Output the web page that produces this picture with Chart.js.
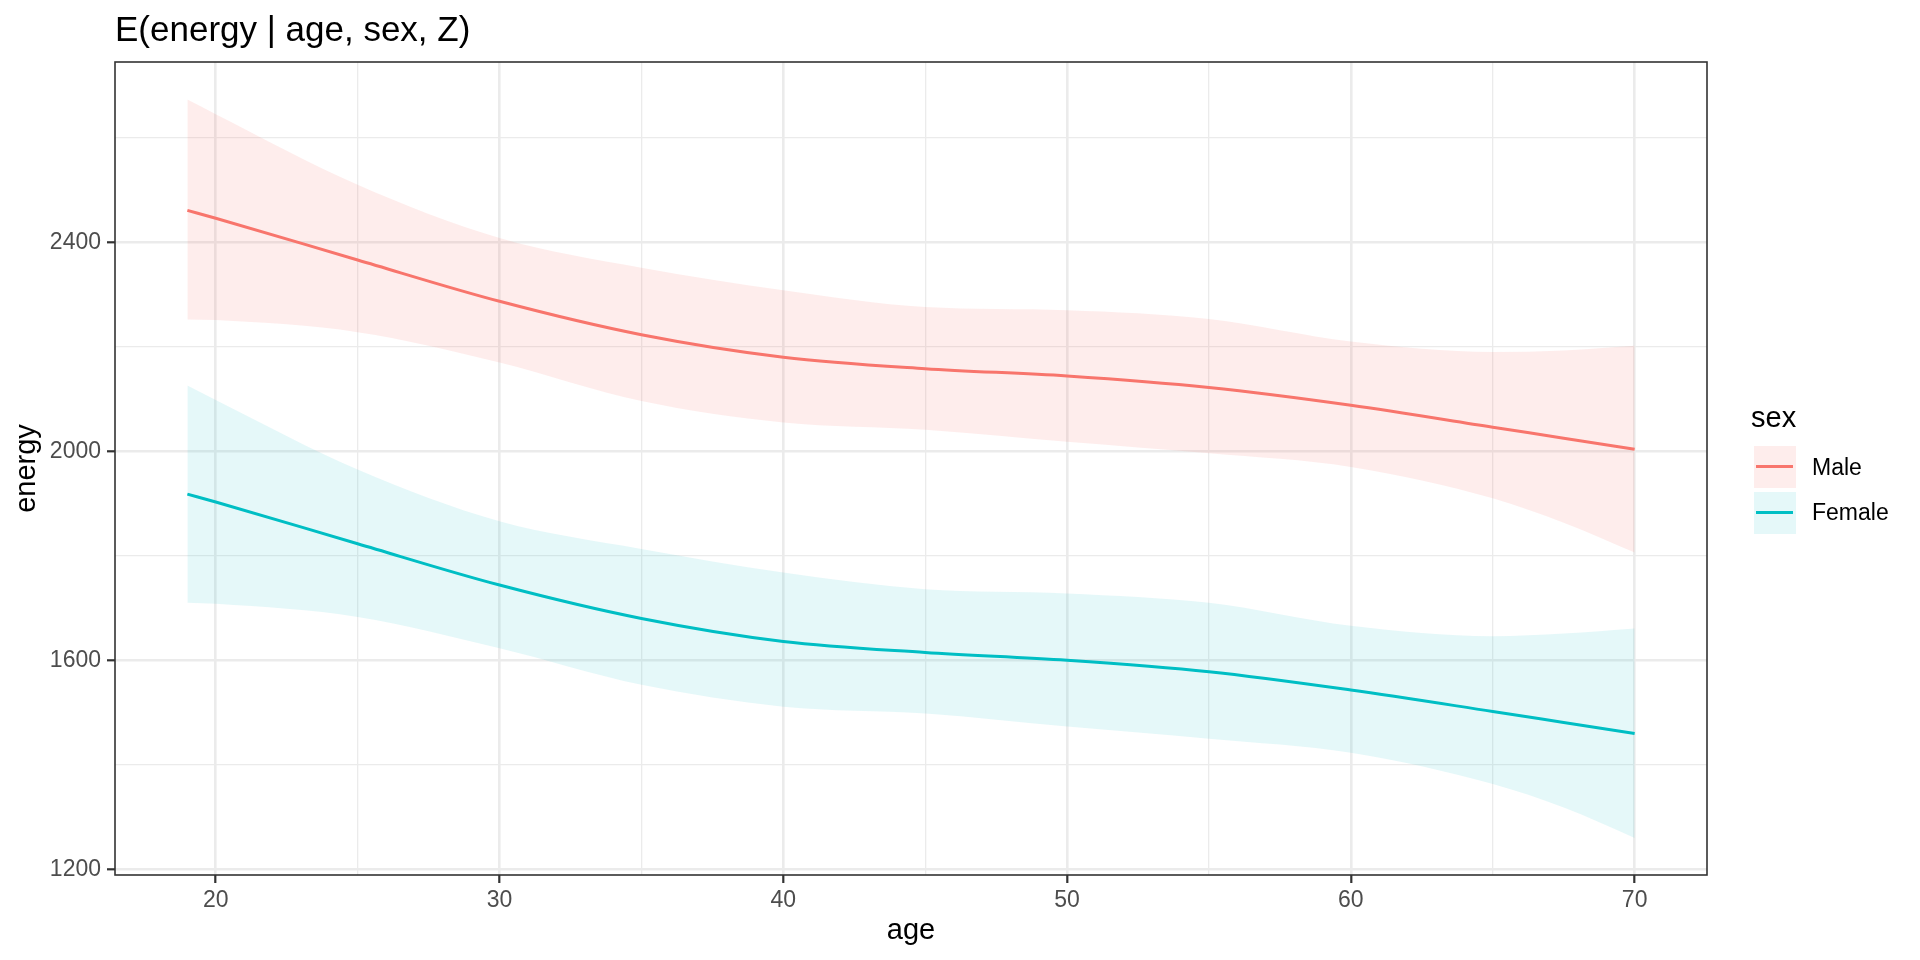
<!DOCTYPE html>
<html>
<head>
<meta charset="utf-8">
<title>E(energy | age, sex, Z)</title>
<script src="https://cdn.jsdelivr.net/npm/chart.js@4.4.1/dist/chart.umd.min.js"></script>
<style>
  body { margin: 0; background: #fff; font-family: "Liberation Sans", Arial, sans-serif; }
  #wrap { position: relative; width: 1920px; height: 960px; }
  .lg { position: absolute; color: #000; white-space: nowrap; }
  .key { position: absolute; width: 42px; height: 42px; }
  .key span { position: absolute; left: 2px; right: 3px; top: 19px; height: 3px; }
</style>
</head>
<body>
<div id="wrap">
  <canvas id="myChart" width="1920" height="960"></canvas>
  <!-- legend drawn as html, ggplot style -->
  <div class="lg" style="left:1751px; top:401px; font-size:29px;">sex</div>
  <div class="key" style="left:1754px; top:446px; background:rgba(248,118,109,0.13);"><span style="background:#F8766D"></span></div>
  <div class="lg" style="left:1812px; top:454px; font-size:23px;">Male</div>
  <div class="key" style="left:1754px; top:492px; background:rgba(0,191,196,0.10);"><span style="background:#00BFC4"></span></div>
  <div class="lg" style="left:1812px; top:499px; font-size:23px;">Female</div>
</div>
<script>
const ages = [19, 20, 25, 30, 35, 40, 45, 50, 55, 60, 65, 67.5, 70];

// Male: fitted line and confidence band
const maleFit   = [2461, 2446, 2366, 2287, 2223, 2180, 2158, 2144, 2122, 2088, 2046, 2025, 2004];
const maleUpper = [2673, 2645, 2510, 2408, 2351, 2308, 2276, 2270, 2253, 2210, 2190, 2193, 2202];
const maleLower = [2252, 2251, 2228, 2170, 2096, 2055, 2041, 2018, 1996, 1970, 1910, 1863, 1806];

// Female: fitted line and confidence band
const femaleFit   = [1918, 1903, 1823, 1744, 1680, 1636, 1615, 1600, 1578, 1543, 1502, 1481, 1460];
const femaleUpper = [2126, 2098, 1965, 1866, 1813, 1768, 1736, 1728, 1710, 1666, 1646, 1651, 1661];
const femaleLower = [1710, 1708, 1683, 1623, 1553, 1511, 1498, 1473, 1450, 1423, 1363, 1318, 1260];

// axis ticks (major get labels, minor only grid lines)
const xTicks = [20, 25, 30, 35, 40, 45, 50, 55, 60, 65, 70];
const yTicks = [1200, 1400, 1600, 1800, 2000, 2200, 2400, 2600];
const xMajor = [20, 30, 40, 50, 60, 70];
const yMajor = [1200, 1600, 2000, 2400];

const FONT = '"Liberation Sans", Arial, sans-serif';

const pts = (ys) => ages.map((a, i) => ({ x: a, y: ys[i] }));

function band(upper, lower, color) {
  return [
    { data: pts(upper), borderWidth: 0, pointRadius: 0, fill: '+1', backgroundColor: color, cubicInterpolationMode: 'monotone' },
    { data: pts(lower), borderWidth: 0, pointRadius: 0, fill: false, cubicInterpolationMode: 'monotone' },
  ];
}

function fitLine(ys, color) {
  return { data: pts(ys), borderColor: color, borderWidth: 3, pointRadius: 0, fill: false, cubicInterpolationMode: 'monotone' };
}

// panel border around the chart area
const panelBorder = {
  id: 'panelBorder',
  afterDatasetsDraw(chart) {
    const { ctx, chartArea: a } = chart;
    ctx.save();
    ctx.strokeStyle = '#333333';
    ctx.lineWidth = 1.6;
    ctx.strokeRect(a.left, a.top, a.right - a.left, a.bottom - a.top);
    ctx.restore();
  },
};

const ctx = document.getElementById('myChart');

new Chart(ctx, {
  type: 'line',
  data: {
    datasets: [
      ...band(maleUpper, maleLower, 'rgba(248,118,109,0.13)'),
      ...band(femaleUpper, femaleLower, 'rgba(0,191,196,0.10)'),
      fitLine(maleFit, '#F8766D'),
      fitLine(femaleFit, '#00BFC4'),
    ],
  },
  options: {
    responsive: false,
    animation: false,
    layout: { padding: { left: 0, right: 213, top: 0, bottom: 0 } },
    plugins: {
      legend: { display: false },
      tooltip: { enabled: false },
      title: {
        display: true,
        text: 'E(energy | age, sex, Z)',
        align: 'start',
        fullSize: false,
        color: '#000',
        font: { family: FONT, size: 35, weight: 'normal' },
        padding: { top: 10, bottom: 10 },
      },
    },
    scales: {
      x: {
        type: 'linear',
        min: 16.45,
        max: 72.55,
        afterBuildTicks: (s) => { s.ticks = xTicks.map((v) => ({ value: v })); },
        afterFit: (s) => { s.height = 85; },
        border: { display: false },
        grid: {
          color: '#EBEBEB',
          lineWidth: (c) => (xMajor.includes(c.tick.value) ? 2.6 : 1.3),
          tickColor: (c) => (xMajor.includes(c.tick.value) ? '#333333' : 'rgba(0,0,0,0)'),
          tickWidth: 2.2,
          tickLength: 8,
        },
        ticks: {
          color: '#4D4D4D',
          font: { family: FONT, size: 23 },
          padding: 4,
          maxRotation: 0,
          autoSkip: false,
          callback: (v) => (xMajor.includes(v) ? String(v) : ''),
        },
        title: {
          display: true,
          text: 'age',
          color: '#000',
          font: { family: FONT, size: 29 },
          padding: { top: 0, bottom: 12 },
        },
      },
      y: {
        type: 'linear',
        min: 1189,
        max: 2745,
        afterBuildTicks: (s) => { s.ticks = yTicks.map((v) => ({ value: v })); },
        afterFit: (s) => { s.width = 115; },
        border: { display: false },
        grid: {
          color: '#EBEBEB',
          lineWidth: (c) => (yMajor.includes(c.tick.value) ? 2.6 : 1.3),
          tickColor: (c) => (yMajor.includes(c.tick.value) ? '#333333' : 'rgba(0,0,0,0)'),
          tickWidth: 2.2,
          tickLength: 8,
        },
        ticks: {
          color: '#4D4D4D',
          font: { family: FONT, size: 23 },
          padding: 6,
          autoSkip: false,
          callback: (v) => (yMajor.includes(v) ? String(v) : ''),
        },
        title: {
          display: true,
          text: 'energy',
          color: '#000',
          font: { family: FONT, size: 29 },
          padding: { top: 10, bottom: 0 },
        },
      },
    },
  },
  plugins: [panelBorder],
});
</script>
</body>
</html>
